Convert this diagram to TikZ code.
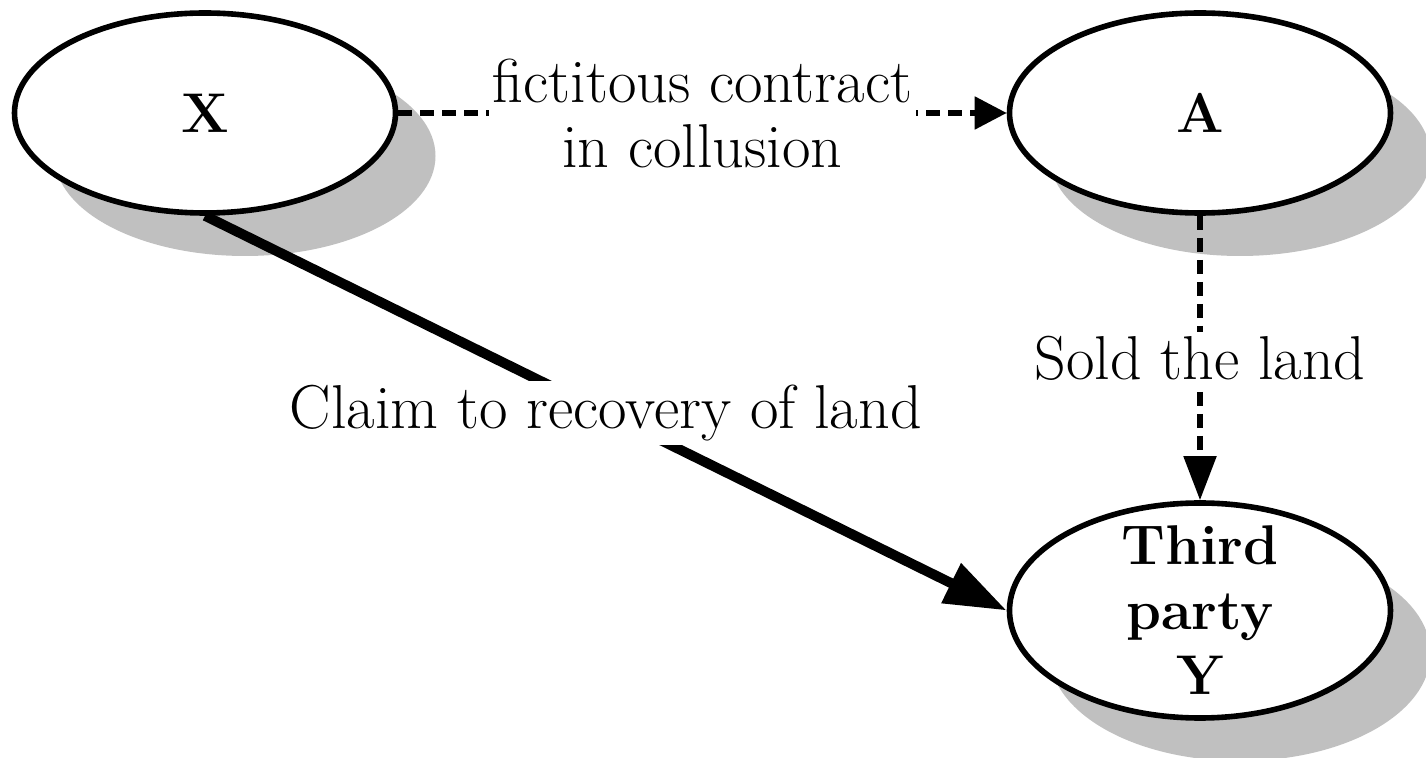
\documentclass[tikz,border=0pt]{standalone}
\usetikzlibrary{arrows.meta,shadows,shapes.geometric}
\definecolor{shadowgray}{RGB}{192,192,192}
\begin{document}
\begin{tikzpicture}[x=0.5pt,y=-0.5pt,
  party/.style={ellipse, draw=black, line width=2.8pt, fill=white,
    minimum width=190.5pt, minimum height=100pt, inner sep=0pt,
    font=\fontsize{28}{32.5}\selectfont\bfseries, align=center,
    drop shadow={shadow xshift=20pt, shadow yshift=-21.5pt, fill=shadowgray, opacity=1}},
  lbl/.style={fill=white, inner sep=2pt, align=center, font=\fontsize{31}{32.5}\selectfont},
  dashedline/.style={line width=2.6pt, dash pattern=on 7pt off 4pt},
  thickarrow/.style={line width=5pt, -{Triangle[length=31pt,width=21pt]}}
]
\useasboundingbox (0,0) rectangle (1426,758);
\node[party] (X) at (205,113) {X};
\node[party] (A) at (1200,113) {A};
\node[party, minimum height=107.5pt, inner ysep=-16pt] (Y) at (1200,610.5) {Third\\party\\Y};
\draw[dashedline, -{Triangle[length=16pt,width=16pt]}] (X.east) -- node[lbl] (l1) {fictitous contract\\in collusion} (A.west);
\draw[dashedline, -{Triangle[length=22pt,width=16pt]}] (A.south) -- node[lbl] (l2) {Sold the land} (Y.north);
\draw[thickarrow] (X.south) -- node[lbl] (l3) {Claim to recovery of land} (Y.west);
\end{tikzpicture}
\end{document}
